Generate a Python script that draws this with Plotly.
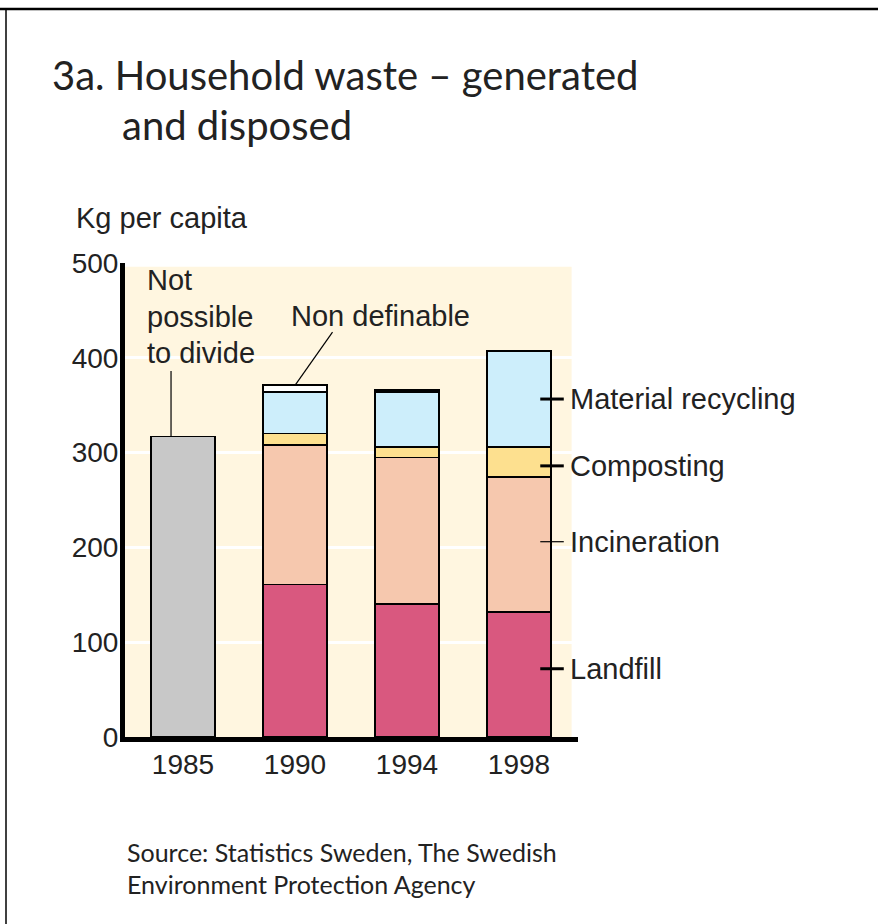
import plotly.graph_objects as go

years = ["1985", "1990", "1994", "1998"]
not_divided = [317, None, None, None]
landfill = [None, 161, 140, 132]
incineration = [None, 147, 155, 142]
composting = [None, 12, 11, 32]
recycling = [None, 44, 58, 101]
non_definable = [None, 7, 2, 0]

xpos = list(range(len(years)))
LINE = dict(color="black", width=1.6)
BW = 0.57
TICKFONT = dict(family="Liberation Sans, Arial, sans-serif", size=28, color="#222")
LABFONT = dict(family="Liberation Sans, Arial, sans-serif", size=29, color="#222")

fig = go.Figure()
fig.add_bar(x=xpos, y=not_divided, marker=dict(color="#c8c8c8", line=LINE), width=BW, name="Not possible to divide")
series = [
    ("Landfill", landfill, "#d9587f"),
    ("Incineration", incineration, "#f6c8ae"),
    ("Composting", composting, "#fde08f"),
    ("Material recycling", recycling, "#cdeefb"),
    ("Non definable", non_definable, "#ffffff"),
]
for name, vals, col in series:
    fig.add_bar(x=xpos, y=vals, marker=dict(color=col, line=LINE), width=BW, name=name)

# cream plot background
fig.add_shape(type="rect", xref="x", yref="y", x0=-0.52, x1=3.47, y0=0, y1=496,
              fillcolor="#fff6e0", line=dict(width=0), layer="below")

# right-hand labels near midpoints of the last bar's segments
last = len(years) - 1
base = 0
label_specs = [("Landfill", landfill, 3.0, 6), ("Incineration", incineration, 1.2, 3),
               ("Composting", composting, 3.0, -4), ("Material recycling", recycling, 3.0, 0)]
for name, vals, lw, dy in label_specs:
    v = vals[last]
    mid = base + v / 2 + dy
    base += v
    fig.add_shape(type="line", xref="x", yref="y", x0=last + 0.19, x1=last + 0.40, y0=mid, y1=mid,
                  line=dict(color="black", width=lw))
    fig.add_annotation(x=last + 0.435, y=mid, xref="x", yref="y", text=name, showarrow=False,
                       xanchor="left", yanchor="middle", font=LABFONT)

# "Not possible to divide" label and leader
top85 = not_divided[0]
fig.add_shape(type="line", xref="x", yref="y", x0=-0.107, x1=-0.107, y0=top85, y1=386,
              line=dict(color="black", width=1.2))
for i, t in enumerate(["Not", "possible", "to divide"]):
    fig.add_annotation(x=-0.34, y=482 - i * 38.6, xref="x", yref="y", text=t, showarrow=False,
                       xanchor="left", yanchor="middle", font=LABFONT)

# "Non definable" label and leader
top90 = sum(v[1] for v in [landfill, incineration, composting, recycling, non_definable])
fig.add_shape(type="line", xref="x", yref="y", x0=1.0, x1=1.335, y0=top90, y1=427,
              line=dict(color="black", width=1.2))
fig.add_annotation(x=0.945, y=444, xref="x", yref="y", text="Non definable", showarrow=False,
                   xanchor="left", yanchor="middle", font=LABFONT)

# title, unit, source
TFONT = dict(family="Lato, sans-serif", size=40, color="#222")
fig.add_annotation(x=50, y=924 - 75, text="3a. Household waste \u2013 generated",
                   showarrow=False, xanchor="left", yanchor="middle", font=TFONT)
fig.add_annotation(x=120, y=924 - 125, text="and disposed", showarrow=False,
                   xanchor="left", yanchor="middle", font=TFONT)
fig.add_annotation(x=74, y=924 - 218, text="Kg per capita", showarrow=False,
                   xanchor="left", yanchor="middle", font=LABFONT)
SFONT = dict(family="Lato, sans-serif", size=25, color="#222")
fig.add_annotation(x=125, y=924 - 852, text="Source: Statistics Sweden, The Swedish", showarrow=False,
                   xanchor="left", yanchor="middle", font=SFONT)
fig.add_annotation(x=125, y=924 - 884, text="Environment Protection Agency", showarrow=False,
                   xanchor="left", yanchor="middle", font=SFONT)

# convert pixel-positioned annotations to paper coordinates
W, H = 878, 924
ML, MR, MT, MB = 125, 300, 263, 187
pw, ph = W - ML - MR, H - MT - MB
new_ann = []
for a in fig.layout.annotations:
    if a.xref == "x":
        new_ann.append(a)
    else:
        px, py = a.x, a.y
        a.xref = "paper"; a.yref = "paper"
        a.x = (px - ML) / pw
        a.y = (py - MB) / ph
        new_ann.append(a)
fig.layout.annotations = new_ann

# frame
fig.add_shape(type="line", xref="paper", yref="paper", x0=(0 - ML) / pw, x1=(W - ML) / pw,
              y0=(H - 9 - MB) / ph, y1=(H - 9 - MB) / ph, line=dict(color="black", width=2.5))
fig.add_shape(type="line", xref="paper", yref="paper", x0=(6 - ML) / pw, x1=(6 - ML) / pw,
              y0=(0 - MB) / ph, y1=(H - 9 - MB) / ph, line=dict(color="black", width=1.5))

fig.update_layout(
    width=W, height=H, margin=dict(l=ML, r=MR, t=MT, b=MB),
    barmode="stack", showlegend=False, paper_bgcolor="white", plot_bgcolor="rgba(0,0,0,0)",
    xaxis=dict(range=[-0.518, 3.527], tickvals=xpos, ticktext=years, showgrid=False, zeroline=False,
               showline=True, linecolor="black", linewidth=5, ticks="", tickfont=TICKFONT, ticklabelstandoff=-2),
    yaxis=dict(range=[0, 500], tickvals=[0, 100, 200, 300, 400, 500], showgrid=True, gridcolor="white",
               gridwidth=3, zeroline=False, showline=True, linecolor="black", linewidth=5, ticks="",
               tickfont=TICKFONT, ticklabelstandoff=-4),
)
fig.write_html("out.html")
